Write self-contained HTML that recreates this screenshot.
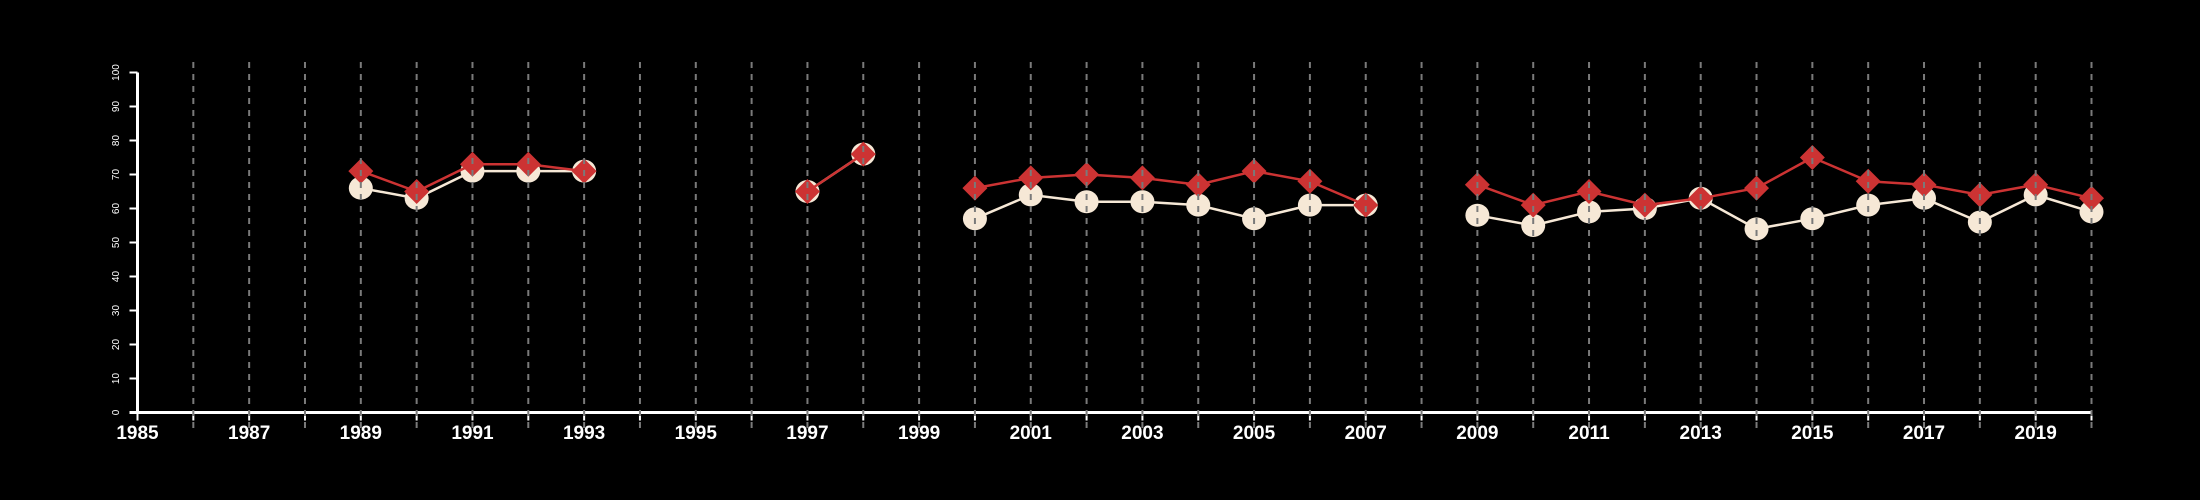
<!DOCTYPE html>
<html><head><meta charset="utf-8"><style>
html,body{margin:0;padding:0;background:#000;}
svg{display:block;}
text{font-family:"Liberation Sans",Arial,sans-serif;fill:#fff;}
</style></head><body>
<svg id="chart" width="2200" height="500" viewBox="0 0 2200 500" xmlns="http://www.w3.org/2000/svg">
<rect width="2200" height="500" fill="#000"/>
<g id="axes"></g>
<g id="series"></g>
<g id="grid"></g>
</svg>
<script>
const years = [1985,1986,1987,1988,1989,1990,1991,1992,1993,1994,1995,1996,1997,1998,1999,2000,2001,2002,2003,2004,2005,2006,2007,2008,2009,2010,2011,2012,2013,2014,2015,2016,2017,2018,2019,2020];
const redValues = [null,null,null,null,71,65,73,73,71,null,null,null,65,76,null,66,69,70,69,67,71,68,61,null,67,61,65,61,63,66,75,68,67,64,67,63];
const creamValues = [null,null,null,null,66,63,71,71,71,null,null,null,65,76,null,57,64,62,62,61,57,61,61,null,58,55,59,60,63,54,57,61,63,56,64,59];
const yTicks = [0,10,20,30,40,50,60,70,80,90,100];
const xLabelYears = [1985,1987,1989,1991,1993,1995,1997,1999,2001,2003,2005,2007,2009,2011,2013,2015,2017,2019];

const NS = "http://www.w3.org/2000/svg";
const x0 = 137.5, x1 = 2091.5, yBase = 412.5, yTop = 72.5;
const xScale = y => x0 + (y - 1985) / (2020 - 1985) * (x1 - x0);
const yScale = v => yBase - v / 100 * (yBase - yTop);
function mk(tag, attrs, parent){const e=document.createElementNS(NS,tag);for(const k in attrs)e.setAttribute(k,attrs[k]);parent.appendChild(e);return e;}
const grid=document.getElementById('grid'), axes=document.getElementById('axes'), series=document.getElementById('series');

years.forEach(y=>{
  if(y===1985) return;
  const l=mk('line',{x1:xScale(y),x2:xScale(y),y1:62,y2:428,stroke:'#7a7a7a','stroke-width':2,'stroke-dasharray':'6,6'},grid);
  
  
});
const xa=mk('line',{x1:x0-8,x2:x1,y1:yBase,y2:yBase,stroke:'#fff','stroke-width':3},axes);


const ya=mk('line',{x1:x0,x2:x0,y1:yTop,y2:yBase,stroke:'#fff','stroke-width':3},axes);


years.forEach(y=>{
  const t=mk('line',{x1:xScale(y),x2:xScale(y),y1:yBase,y2:yBase+8,stroke:'#fff','stroke-width':2},axes);
  
  
});
xLabelYears.forEach(y=>{
  const t=mk('text',{x:xScale(y),y:439,'text-anchor':'middle','font-size':19,'font-weight':'bold'},axes);
  t.textContent=y;
  
  
});
yTicks.forEach(v=>{
  const yy=yScale(v);
  const t=mk('line',{x1:x0-8,x2:x0,y1:yy,y2:yy,stroke:'#fff','stroke-width':2},axes);
  
  
  const lb=mk('text',{x:0,y:0,'text-anchor':'middle','font-size':10,transform:`translate(119,${yy}) rotate(-90)`},axes);
  lb.textContent=v;
  
  
});
function drawLine(vals,color,name){
  let seg=[];
  const flush=()=>{ if(seg.length>1){const p=mk('polyline',{points:seg.join(' '),fill:'none',stroke:color,'stroke-width':2.5},series);
    
    } seg=[]; };
  vals.forEach((v,i)=>{ if(v===null){flush();} else seg.push(xScale(years[i])+','+yScale(v)); });
  flush();
}
drawLine(creamValues,'#f6e8d6','cream-series');
creamValues.forEach((v,i)=>{
  if(v===null) return;
  const c=mk('ellipse',{cx:xScale(years[i]),cy:yScale(v),rx:12,ry:11.5,fill:'#f6e8d6'},series);
  
  
});
drawLine(redValues,'#cc3333','red-series');
redValues.forEach((v,i)=>{
  if(v===null) return;
  const cx=xScale(years[i]), cy=yScale(v), s=12.5;
  const d=mk('polygon',{points:`${cx},${cy-s} ${cx+s},${cy} ${cx},${cy+s} ${cx-s},${cy}`,fill:'#cc3333'},series);
  
  
});
</script>
</body></html>
